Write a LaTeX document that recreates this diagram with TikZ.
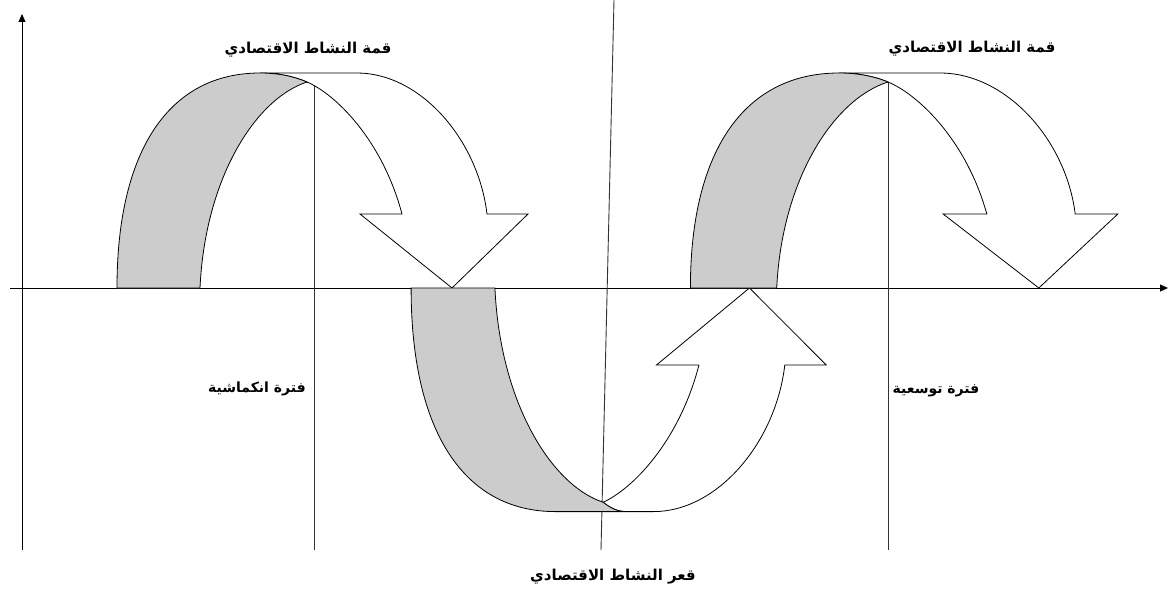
\documentclass[tikz,border=0pt]{standalone}
\usepackage{fontspec}
\newfontfamily\arabicfont[Script=Arabic, BoldFont={DejaVu Sans Bold}]{DejaVu Sans}
\TeXXeTstate=1
\usetikzlibrary{arrows.meta}

\begin{document}
\begin{tikzpicture}[
    x=1pt, y=-1pt,
    axis/.style={-{Triangle[length=8pt,width=7pt]}, line width=0.9pt},
    guide/.style={line width=0.9pt, black!80},
    band/.style={draw, fill=black!20, line width=0.8pt},
    body/.style={draw, fill=white, line width=0.8pt},
    lbl/.style={font=\arabicfont\bfseries\fontsize{15}{17}\selectfont, inner sep=1pt},
    period/.style={lbl, font=\arabicfont\bfseries\fontsize{14}{16}\selectfont},
]
    \useasboundingbox (0,0) rectangle (1169,591);

    % Axes and guide lines
    \draw[axis] (10,288) -- (1168,288);
    \draw[axis] (22,550) -- (22,14);
    \draw[guide] (314,75) -- (314,550);
    \draw[guide] (888,75) -- (888,550);
    \draw[guide] (614,0) -- (601,550);

    % Left peak
    \begin{scope}[shift={(307,288)}]
        \draw[body] (-47,-215) -- (50,-215) .. controls (113,-215) and (171,-149) .. (180,-74)
            -- (221,-74) -- (145,0) -- (53,-74) -- (95,-74)
            .. controls (75,-149) and (28,-194) .. (0,-206)
            .. controls (-14,-212) and (-30,-215) .. cycle;
        \draw[band] (-190,0) .. controls (-190,-139) and (-137,-215) .. (-47,-215)
            .. controls (-30,-215) and (-14,-212) .. (0,-206)
            .. controls (-52,-189) and (-102,-109) .. (-107,0) -- cycle;
    \end{scope}

    % Trough
    \begin{scope}[shift={(603,288)}, xscale=1.01, yscale=-1.04]
        \draw[body] (0,-206) .. controls (8,-212) and (15,-215) .. (22,-215)
            -- (50,-215) .. controls (113,-215) and (171,-149) .. (180,-74)
            -- (221,-74) -- (145,0) -- (53,-74) -- (95,-74)
            .. controls (75,-149) and (28,-194) .. cycle;
        \draw[band] (-190,0) .. controls (-190,-139) and (-137,-215) .. (-47,-215)
            -- (22,-215) .. controls (15,-215) and (8,-212) .. (0,-206)
            .. controls (-52,-189) and (-102,-109) .. (-107,0) -- cycle;
    \end{scope}

    % Right peak
    \begin{scope}[shift={(888,288)}, xscale=1.04]
        \draw[body] (-47,-215) -- (50,-215) .. controls (113,-215) and (171,-149) .. (180,-74)
            -- (221,-74) -- (145,0) -- (53,-74) -- (95,-74)
            .. controls (75,-149) and (28,-194) .. (0,-206)
            .. controls (-14,-212) and (-30,-215) .. cycle;
        \draw[band] (-190,0) .. controls (-190,-139) and (-137,-215) .. (-47,-215)
            .. controls (-30,-215) and (-14,-212) .. (0,-206)
            .. controls (-52,-189) and (-102,-109) .. (-107,0) -- cycle;
    \end{scope}

    % Labels
    \node[lbl] (peakleft) at (308,50) {\beginR قمة النشاط الاقتصادي\endR};
    \node[lbl] (peakright) at (972,49) {\beginR قمة النشاط الاقتصادي\endR};
    \node[lbl] (trough) at (613,577) {\beginR قعر النشاط الاقتصادي\endR};
    \node[period] (contr) at (257,389) {\beginR فترة انكماشية\endR};
    \node[period] (expan) at (936,391) {\beginR فترة توسعية\endR};
\end{tikzpicture}
\end{document}
